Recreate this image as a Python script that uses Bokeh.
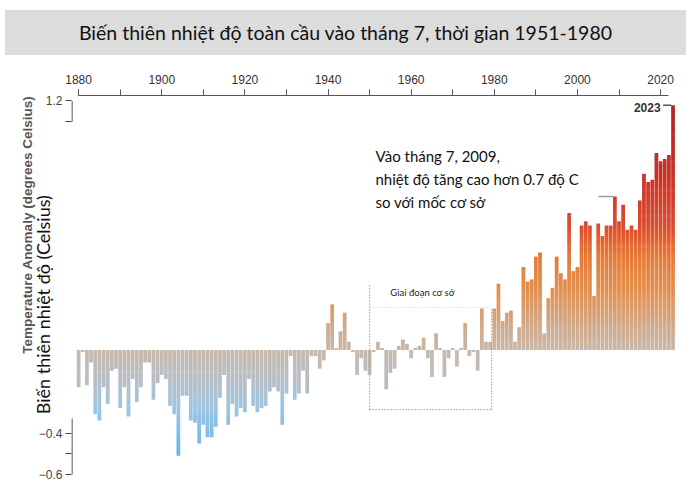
import math
from bokeh.plotting import figure
from bokeh.models import FixedTicker, Label, ColumnDataSource, Div, LinearAxis
from bokeh.layouts import column
from bokeh.embed import file_html
from bokeh.resources import INLINE

# ---------------- data ----------------
YEARS = list(range(1880, 2024))
ANOMALY = [
    # 1880s
    -0.18, -0.01, -0.17, -0.06, -0.31, -0.34, -0.18, -0.26, -0.10, -0.09,
    # 1890s
    -0.28, -0.18, -0.32, -0.14, -0.25, -0.18, -0.06, -0.06, -0.24, -0.16,
    # 1900s
    -0.12, -0.14, -0.27, -0.31, -0.51, -0.22, -0.22, -0.34, -0.35, -0.45,
    # 1910s
    -0.36, -0.42, -0.42, -0.37, -0.23, -0.12, -0.36, -0.26, -0.32, -0.28,
    # 1920s
    -0.30, -0.14, -0.27, -0.30, -0.28, -0.27, -0.20, -0.18, -0.20, -0.36,
    # 1930s
    -0.21, -0.03, -0.24, -0.21, -0.10, -0.21, -0.03, -0.03, -0.09, -0.05,
    # 1940s
    0.13, 0.22, 0.01, 0.09, 0.18, 0.04, -0.01, -0.12, -0.04, -0.10,
    # 1950s
    -0.12, -0.01, 0.04, 0.01, -0.19, -0.11, -0.09, 0.02, 0.05, 0.03,
    # 1960s
    -0.04, 0.01, 0.02, 0.06, -0.04, -0.13, 0.08, 0.01, -0.13, -0.04,
    # 1970s
    0.01, -0.08, 0.01, 0.13, -0.03, -0.01, -0.10, 0.20, 0.04, 0.04,
    # 1980s
    0.20, 0.32, 0.14, 0.18, 0.19, 0.04, 0.11, 0.40, 0.33, 0.34,
    # 1990s
    0.45, 0.47, 0.08, 0.25, 0.30, 0.45, 0.37, 0.34, 0.66, 0.38,
    # 2000s
    0.40, 0.60, 0.62, 0.60, 0.26, 0.61, 0.55, 0.60, 0.60, 0.74,
    # 2010s
    0.62, 0.70, 0.58, 0.60, 0.58, 0.72, 0.85, 0.81, 0.82, 0.95,
    # 2020s
    0.91, 0.92, 0.94, 1.18,
]
assert len(YEARS) == len(ANOMALY)

X_TICKS = list(range(1880, 2021, 20))
X_MINOR = list(range(1880, 2021, 10))
Y_TICKS = [1.2, 1.1, -0.4, -0.5, -0.6]
Y_LABELS = {1.1: "", -0.5: ""}

TITLE = "Biến thiên nhiệt độ toàn cầu vào tháng 7, thời gian 1951-1980"
Y_LABEL_VI = "Biến thiên nhiệt độ (Celsius)"
Y_LABEL_EN = "Temperature Anomaly (degrees Celsius)"
NOTE_2009 = "Vào tháng 7, 2009,\nnhiệt độ tăng cao hơn 0.7 độ C\nso với mốc cơ sở"
BASE_LABEL = "Giai đoạn cơ sở"
LAST_LABEL = "2023"

NBSP = "\u00a0"

# ---------------- colour ramp (by height) ----------------
STOPS = [(-0.55, "#5aaeea"), (-0.42, "#7abde9"), (-0.28, "#9fc5e0"),
         (-0.14, "#b8bec4"), (0.0, "#c8b9ab"), (0.15, "#d5a47e"),
         (0.30, "#e38f4c"), (0.45, "#e67a36"), (0.60, "#dd4b2d"),
         (0.85, "#c93127"), (1.2, "#ac2424")]


def _rgb(h):
    return tuple(int(h[i:i + 2], 16) for i in (1, 3, 5))


def ramp(v):
    if v <= STOPS[0][0]:
        return STOPS[0][1]
    for (a, ca), (b, cb) in zip(STOPS, STOPS[1:]):
        if v <= b:
            t = (v - a) / (b - a)
            ra, rb = _rgb(ca), _rgb(cb)
            return "#%02x%02x%02x" % tuple(round(x + (y - x) * t) for x, y in zip(ra, rb))
    return STOPS[-1][1]


# each bar is built from thin, slightly overlapping slices so that it
# carries a vertical colour gradient
STEP = 0.01
OVERLAP = 0.003
lx, lbot, ltop, lcol = [], [], [], []
for yr, v in zip(YEARS, ANOMALY):
    s = 1 if v >= 0 else -1
    n = max(1, math.ceil(abs(v) / STEP - 1e-9))
    for k in range(1, n + 1):
        lo = max(0.0, (k - 1) * STEP - OVERLAP)
        hi = min(abs(v), k * STEP)
        lx.append(yr)
        lbot.append(s * lo)
        ltop.append(s * hi)
        lcol.append(ramp(s * (k - 0.5) * STEP))
src = ColumnDataSource(dict(x=lx, bottom=lbot, top=ltop, color=lcol))

# ---------------- figure ----------------
X0, X1 = 1878.29, 2027.44
Y0, Y1 = -0.6337, 1.2265

p = figure(width=691, height=426, x_range=(X0, X1), y_range=(Y0, Y1),
           x_axis_location="above", toolbar_location=None, output_backend="svg",
           min_border_left=71, min_border_right=0, min_border_top=40,
           min_border_bottom=0, outline_line_color=None,
           background_fill_color="white", border_fill_color="white")
p.grid.visible = False

p.vbar(x="x", width=0.88, bottom="bottom", top="top", fill_color="color",
       line_color=None, source=src)

# top axis
xa = p.xaxis[0]
xa.ticker = FixedTicker(ticks=X_TICKS, minor_ticks=X_MINOR)
xa.bounds = (1880, 2022)
xa.axis_line_color = "#555555"
xa.major_tick_line_color = "#555555"
xa.minor_tick_line_color = "#555555"
xa.major_tick_out = 6
xa.major_tick_in = 0
xa.minor_tick_out = 6
xa.minor_tick_in = 0
xa.major_label_text_font = "Liberation Sans"
xa.major_label_text_font_size = "12px"
xa.major_label_text_color = "#333333"
xa.major_label_standoff = 6

# left axis (ticks + Vietnamese label)
ya = p.yaxis[0]
ya.ticker = FixedTicker(ticks=Y_TICKS, minor_ticks=[])
ya.major_label_overrides = Y_LABELS
ya.axis_line_color = None
ya.major_tick_line_color = "#444444"
ya.major_tick_out = 6
ya.major_tick_in = 0
ya.minor_tick_line_color = None
ya.major_label_text_font = "Liberation Sans"
ya.major_label_text_font_size = "12px"
ya.major_label_text_color = "#444444"
ya.major_label_standoff = 3
ya.axis_label = Y_LABEL_VI + NBSP * 7
ya.axis_label_text_font = "Lato"
ya.axis_label_text_font_style = "normal"
ya.axis_label_text_font_size = "18px"
ya.axis_label_text_color = "#111111"
ya.axis_label_standoff = -18

# outer left axis carrying only the grey English label
ea = LinearAxis(axis_label=NBSP * 34 + Y_LABEL_EN, ticker=FixedTicker(ticks=[]),
                axis_line_color=None,
                major_tick_line_color=None, minor_tick_line_color=None,
                major_label_text_font_size="0px",
                axis_label_text_font="Liberation Sans",
                axis_label_text_font_style="bold",
                axis_label_text_font_size="13.5px",
                axis_label_text_color="#555555", axis_label_standoff=-6)
p.add_layout(ea, "left")

# left axis bracket pieces
ax_x = X0 + 0.12
p.segment(x0=[ax_x, ax_x], x1=[ax_x, ax_x], y0=[Y_TICKS[1], Y_TICKS[-1]],
          y1=[Y_TICKS[0], -0.33], line_color="#444444", line_width=1.2)

# baseline period box (dotted)
bx0, bx1, by0, by1 = 1950.0, 1979.35, -0.287, 0.205
p.segment(x0=[bx0, bx0, bx1], x1=[bx0, bx1, bx1],
          y0=[by0, by0, by0], y1=[0.32, by0, by1],
          line_color="#8a8a8a", line_width=1.3, line_dash="1 2")
p.segment(x0=[bx0], x1=[bx1], y0=[by1], y1=[by1],
          line_color="#cfcfcf", line_width=1, line_dash="1 2")

# leader lines
v2009 = ANOMALY[YEARS.index(2009)]
v2023 = ANOMALY[YEARS.index(2023)]
p.segment(x0=[2005.1], x1=[2008.6], y0=[v2009], y1=[v2009],
          line_color="#9a9a9a", line_width=1.5)
p.segment(x0=[2020.6], x1=[2022.6], y0=[v2023], y1=[v2023],
          line_color="#555555", line_width=1.5)

# texts
p.add_layout(Label(x=1951.4, y=0.9807, text=NOTE_2009, text_font="Lato",
                   text_font_size="15px", text_color="#111111",
                   text_baseline="top", text_align="left", text_line_height=1.3))
p.add_layout(Label(x=1955.0, y=0.277, text=BASE_LABEL, text_font="Lato",
                   text_font_size="9.5px", text_color="#222222",
                   text_baseline="middle", text_align="left"))
p.add_layout(Label(x=2020.0, y=1.169, text=LAST_LABEL, text_font="Liberation Sans",
                   text_font_style="bold", text_font_size="12px", text_color="#333333",
                   text_baseline="middle", text_align="right"))

title = Div(text=TITLE, width=681, height=45, margin=(10, 0, 0, 5),
            styles={"background-color": "#dcdcdc", "font-family": "Lato",
                    "font-size": "19.5px", "color": "#111111",
                    "text-align": "center", "line-height": "45px",
                    "white-space": "nowrap"})

layout = column(title, p, spacing=0)
open("out.html", "w").write(file_html(layout, INLINE))
